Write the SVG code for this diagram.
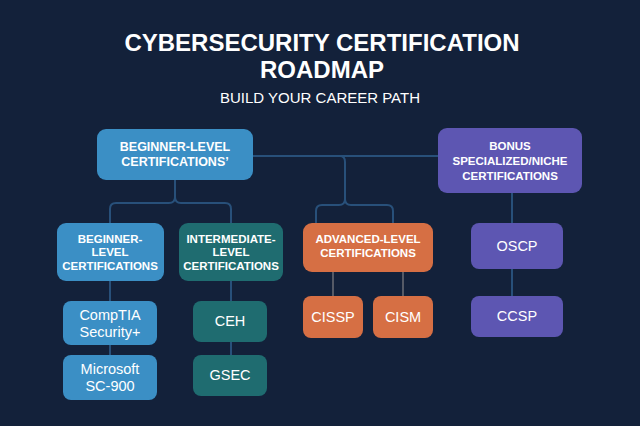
<svg xmlns="http://www.w3.org/2000/svg" width="640" height="426" viewBox="0 0 640 426">
<style>
text{font-family:"Liberation Sans",Arial,sans-serif;fill:#fff;text-anchor:middle}
.h{font-weight:bold;font-size:11.5px}
.n{font-size:14.5px}
.b{fill:#3b8fc5}.t{fill:#1f6c70}.o{fill:#d66f44}.p{fill:#5d56b2}
.c{fill:none;stroke:#28507a;stroke-width:2}
.g{fill:none;stroke:#555a66;stroke-width:2}
</style>
<rect width="640" height="426" fill="#13213a"/>
<text x="322" y="51" style="font-weight:bold;font-size:24px">CYBERSECURITY CERTIFICATION</text>
<text x="322" y="78" style="font-weight:bold;font-size:24px">ROADMAP</text>
<text x="320" y="103" style="font-size:15px">BUILD YOUR CAREER PATH</text>
<g id="connectors">
<path class="c" d="M253 156H438"/>
<path class="c" d="M175 180V197q0 6-6 6H116q-6 0-6 6V223M175 197q0 6 6 6H225q6 0 6 6V223"/>
<path class="c" d="M340 156q5 0 5 6V199q0 6-6 6H322q-6 0-6 6V223M345 199q0 6 6 6H387q6 0 6 6V223"/>
<path class="c" d="M110 281V301M110 345V355M231 281V301M231 342V355M512 193V223M512 269V296"/>
<path class="g" d="M333 272V296M403 272V296"/>
</g>
<g id="top"><rect class="b" x="97" y="129" width="156" height="51" rx="9"/><text class="h" x="175" y="151" style="font-size:12.5px">BEGINNER-LEVEL</text><text class="h" x="175" y="166" style="font-size:12.5px">CERTIFICATIONS’</text></g>
<g id="bonus"><rect class="p" x="438" y="128" width="144" height="65" rx="9"/><text class="h" x="510" y="150">BONUS</text><text class="h" x="510" y="165">SPECIALIZED/NICHE</text><text class="h" x="510" y="180">CERTIFICATIONS</text></g>
<g id="beginner"><rect class="b" x="57" y="223" width="107" height="58" rx="9"/><text class="h" x="110" y="243">BEGINNER-</text><text class="h" x="110" y="256">LEVEL</text><text class="h" x="110" y="270">CERTIFICATIONS</text></g>
<g id="intermediate"><rect class="t" x="179" y="223" width="104" height="58" rx="9"/><text class="h" x="231" y="243">INTERMEDIATE-</text><text class="h" x="231" y="256">LEVEL</text><text class="h" x="231" y="270">CERTIFICATIONS</text></g>
<g id="advanced"><rect class="o" x="303" y="223" width="130" height="49" rx="9"/><text class="h" x="368" y="243">ADVANCED-LEVEL</text><text class="h" x="368" y="257">CERTIFICATIONS</text></g>
<g id="comptia"><rect class="b" x="63" y="301" width="94" height="44" rx="8"/><text class="n" x="110" y="320">CompTIA</text><text class="n" x="110" y="337">Security+</text></g>
<g id="microsoft"><rect class="b" x="63" y="355" width="94" height="45" rx="8"/><text class="n" x="110" y="374">Microsoft</text><text class="n" x="110" y="391">SC-900</text></g>
<g id="ceh"><rect class="t" x="193" y="301" width="74" height="41" rx="8"/><text class="n" x="230" y="326">CEH</text></g>
<g id="gsec"><rect class="t" x="193" y="355" width="74" height="41" rx="8"/><text class="n" x="230" y="380">GSEC</text></g>
<g id="cissp"><rect class="o" x="303" y="296" width="60" height="42" rx="8"/><text class="n" x="333" y="322">CISSP</text></g>
<g id="cism"><rect class="o" x="373" y="296" width="60" height="42" rx="8"/><text class="n" x="403" y="322">CISM</text></g>
<g id="oscp"><rect class="p" x="471" y="223" width="92" height="46" rx="8"/><text class="n" x="517" y="251">OSCP</text></g>
<g id="ccsp"><rect class="p" x="471" y="296" width="92" height="41" rx="8"/><text class="n" x="517" y="321">CCSP</text></g>
</svg>
